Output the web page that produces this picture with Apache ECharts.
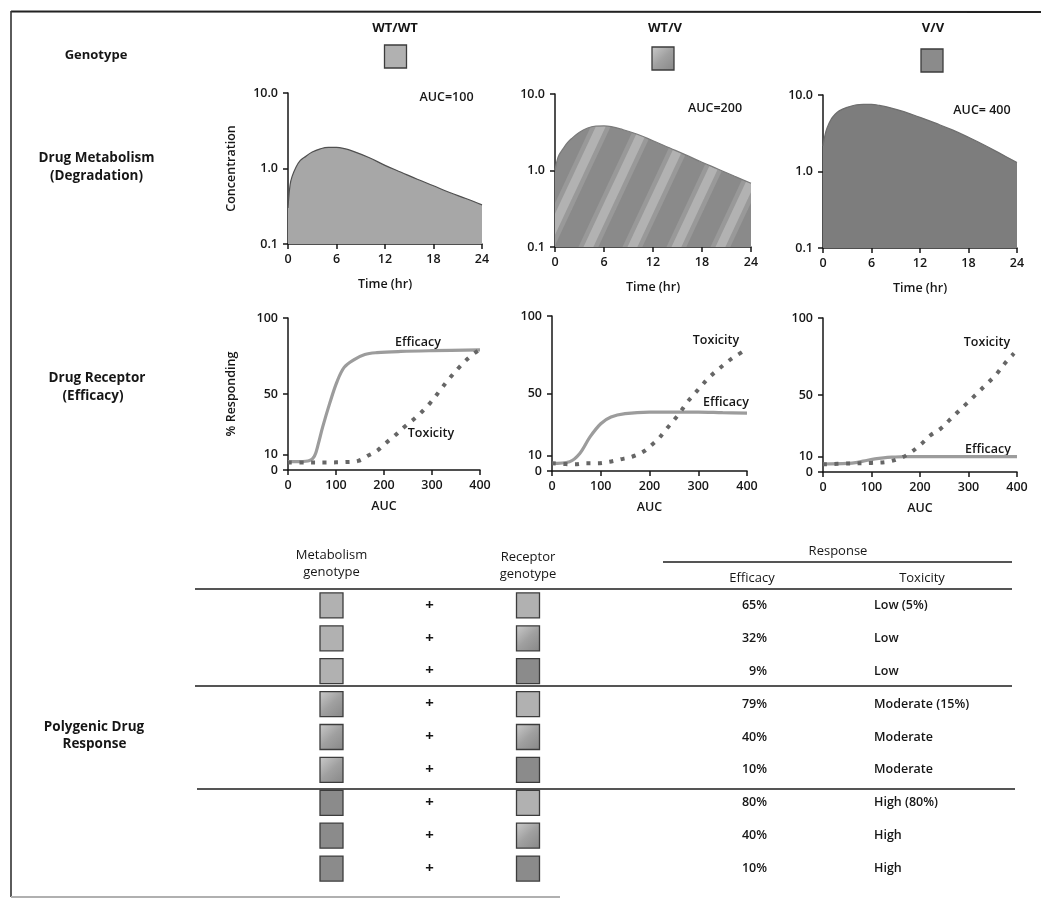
<!DOCTYPE html>
<html><head><meta charset="utf-8">
<script src="https://cdn.jsdelivr.net/npm/echarts@6/dist/echarts.min.js"></script>
<style>html,body{margin:0;padding:0;background:#fff}#c{width:1041px;height:898px}</style>
</head><body><div id="c"></div>
<script>
// ---------------- DATA ----------------
const genotypes = ['WT/WT', 'WT/V', 'V/V'];
const aucLabels = ['AUC=100', 'AUC=200', 'AUC= 400'];
const timeTicks = [0, 6, 12, 18, 24];
const respTicks = [0, 10, 50, 100];

const timeHr   = [0, 0.25, 0.5, 1, 1.5, 2, 3, 4, 5, 6, 7, 8, 10, 12, 14, 16, 18, 20, 22, 24];
const concWTWT = [0.3, 0.6, 0.78, 1.05, 1.27, 1.4, 1.65, 1.82, 1.9, 1.9, 1.83, 1.7, 1.4, 1.1, 0.89, 0.72, 0.59, 0.48, 0.4, 0.33];
const concWTV  = [1.0, 1.35, 1.6, 1.93, 2.3, 2.6, 3.16, 3.6, 3.8, 3.83, 3.72, 3.5, 3.0, 2.45, 1.98, 1.6, 1.28, 1.04, 0.84, 0.68];
const concVV   = [2.16, 3.0, 3.7, 4.8, 5.6, 6.2, 6.9, 7.4, 7.56, 7.56, 7.3, 6.95, 6.05, 5.1, 4.25, 3.5, 2.8, 2.2, 1.7, 1.31];

// [AUC, % responding]
const effWTWT = [[0,5.5],[25,5.5],[45,6.2],[55,9],[63,17],[72,28],[87,44],[102,58],[117,67.5],[137,72.5],[160,76],[185,77.2],[235,78],[300,78.5],[400,79]];
const toxWTWT = [[0,5],[40,5],[80,5],[120,5.2],[146,6],[167,9.5],[185,12.5],[201,17],[222,22.5],[243,28.5],[268,35],[296,44],[317,52.5],[337,60.5],[358,68],[379,74.5],[398,79]];
const effWTV  = [[0,4.9],[36,6],[57,11.3],[78,22],[100,30.5],[121,34.8],[150,37],[200,38],[250,38],[300,38],[350,37.6],[400,37.3]];
const toxWTV  = [[0,5],[46,4.3],[71,5],[93,5],[118,6],[140,7.5],[164,9.2],[187,12.4],[205,17],[219,21],[233,26.5],[248,32],[262,37.4],[276,43.8],[290,49],[306,54.7],[321,60],[337,64.5],[353,68.7],[371,73],[394,77.5]];
const effVV   = [[0,5.2],[50,5.6],[71,6.3],[90,7.5],[107,8.5],[125,9.2],[142,9.6],[170,10],[200,10],[300,10],[400,10]];
const toxVV   = [[0,5],[50,5.5],[100,5.9],[135,6.7],[164,9.6],[182,12.9],[203,18.3],[221,23.7],[242,28],[260,33.5],[278,39],[296,44.4],[314,49.9],[335,56.4],[356,63],[378,71.7],[394,77]];

// table
const tableMetab    = [0, 0, 0, 1, 1, 1, 2, 2, 2];
const tableRecep    = [0, 1, 2, 0, 1, 2, 0, 1, 2];
const tableEfficacy = [65, 32, 9, 79, 40, 10, 80, 40, 10];
const tableToxicity = ['Low (5%)', 'Low', 'Low', 'Moderate (15%)', 'Moderate', 'Moderate', 'High (80%)', 'High', 'High'];

// ---------------- STYLE ----------------
const FF = '"Open Sans", "DejaVu Sans", sans-serif';
const INK = '#161616';

function stripes() {
  const W = 44, H = 94;
  const c = document.createElement('canvas');
  c.width = W; c.height = H;
  const g = c.getContext('2d');
  g.fillStyle = '#8a8a8a'; g.fillRect(0, 0, W, H);
  [[18, 'rgba(176,176,176,0.4)'], [9, 'rgba(184,184,184,0.8)']].forEach(([lw, col]) => {
    g.strokeStyle = col; g.lineWidth = lw;
    for (let k = -2; k <= 2; k++) {
      g.beginPath();
      g.moveTo(k * W - W * 0.5, H * 1.5);
      g.lineTo(k * W + W * 1.5, -H * 0.5);
      g.stroke();
    }
  });
  return c;
}
function swatchFill(gIdx) {
  if (gIdx === 0) return '#b1b1b1';
  if (gIdx === 1) return new echarts.graphic.LinearGradient(0, 0, 1, 1, [
    { offset: 0, color: '#cccccc' }, { offset: 0.5, color: '#a0a0a0' }, { offset: 1, color: '#878787' }]);
  return '#8b8b8b';
}

const axisLineStyle = { color: INK, width: 1.5 };
const labelStyle = { color: INK, fontSize: 12.5, fontWeight: 600, fontFamily: FF };
const nameStyle = { color: INK, fontSize: 12.5, fontWeight: 600, fontFamily: FF };

const grids = [
  { left: 288, top: 93, width: 194, height: 151 },
  { left: 555, top: 94, width: 196, height: 153 },
  { left: 823, top: 95, width: 194, height: 153 },
  { left: 288, top: 318, width: 192, height: 152 },
  { left: 552, top: 316, width: 195, height: 155 },
  { left: 823, top: 318, width: 194, height: 154 },
  { left: 195, top: 589, width: 817, height: 296 }
];

const xAxes = [], yAxes = [];
for (let i = 0; i < 3; i++) {
  xAxes.push({
    gridIndex: i, type: 'value', min: 0, max: 24, interval: 6,
    name: 'Time (hr)', nameLocation: 'middle', nameGap: 34, nameTextStyle: nameStyle,
    axisLine: { lineStyle: axisLineStyle }, axisTick: { length: 5, lineStyle: axisLineStyle },
    axisLabel: Object.assign({ margin: 9, customValues: timeTicks }, labelStyle), splitLine: { show: false }
  });
  yAxes.push({
    gridIndex: i, type: 'log', logBase: 10, min: 0.1, max: 10,
    name: i === 0 ? 'Concentration' : '', nameLocation: 'middle', nameGap: 50, nameRotate: 90, nameTextStyle: nameStyle,
    axisLine: { show: true, lineStyle: axisLineStyle }, axisTick: { show: true, length: 5, lineStyle: axisLineStyle },
    axisLabel: Object.assign({ margin: 10, formatter: v => Number(v).toFixed(1) }, labelStyle), splitLine: { show: false }
  });
}
for (let i = 3; i < 6; i++) {
  xAxes.push({
    gridIndex: i, type: 'value', min: 0, max: 400, interval: 100,
    name: 'AUC', nameLocation: 'middle', nameGap: 30, nameTextStyle: nameStyle,
    axisLine: { lineStyle: axisLineStyle }, axisTick: { length: 5, lineStyle: axisLineStyle },
    axisLabel: Object.assign({ margin: 9 }, labelStyle), splitLine: { show: false }
  });
  yAxes.push({
    gridIndex: i, type: 'value', min: 0, max: 100,
    name: i === 3 ? '% Responding' : '', nameLocation: 'middle', nameGap: 50, nameRotate: 90, nameTextStyle: nameStyle,
    axisLine: { show: true, lineStyle: axisLineStyle },
    axisTick: { show: true, length: 5, lineStyle: axisLineStyle, customValues: respTicks },
    axisLabel: Object.assign({ margin: 10, customValues: respTicks }, labelStyle), splitLine: { show: false }
  });
}
// table axes (hidden); x in page-pixel-like units for column layout
xAxes.push({ gridIndex: 6, type: 'value', min: 195, max: 1012, show: false });
yAxes.push({ gridIndex: 6, type: 'category', inverse: true, show: false, data: tableEfficacy.map((_, i) => 'row' + i) });

const TCOL = { metab: 331.5, plus: 429.5, recep: 528, eff: 767, tox: 874 };

const pattern = { image: stripes(), repeat: 'repeat' };
const concSets = [concWTWT, concWTV, concVV];
const areaFills = ['#a7a7a7', pattern, '#7d7d7d'];
const edgeCols = ['#505050', '#7a7a7a', '#6e6e6e'];

const series = [];
concSets.forEach((arr, i) => {
  series.push({
    type: 'line', xAxisIndex: i, yAxisIndex: i, data: timeHr.map((t, k) => [t, arr[k]]),
    smooth: 0.4, symbol: 'none', silent: true,
    lineStyle: { color: edgeCols[i], width: 1.2 },
    areaStyle: { color: areaFills[i], opacity: 1, origin: 'start' }
  });
});
const effSets = [effWTWT, effWTV, effVV], toxSets = [toxWTWT, toxWTV, toxVV];
for (let i = 0; i < 3; i++) {
  series.push({
    type: 'line', xAxisIndex: 3 + i, yAxisIndex: 3 + i, data: effSets[i],
    smooth: 0.35, symbol: 'none', silent: true,
    lineStyle: { color: '#9c9c9c', width: 3.2 }
  });
  series.push({
    type: 'line', xAxisIndex: 3 + i, yAxisIndex: 3 + i, data: toxSets[i],
    smooth: 0.35, symbol: 'none', silent: true,
    lineStyle: { color: '#666666', width: 4, type: [4, 7.5], cap: 'butt' }
  });
}
// table rows
series.push({
  type: 'custom', xAxisIndex: 6, yAxisIndex: 6, clip: false, silent: true,
  data: tableEfficacy.map((e, i) => [i, e]), encode: { y: 0 },
  renderItem: function (params, api) {
    const i = params.dataIndex;
    const y = api.coord([TCOL.metab, api.value(0)])[1];
    const xm = api.coord([TCOL.metab, 0])[0], xp = api.coord([TCOL.plus, 0])[0], xr = api.coord([TCOL.recep, 0])[0];
    const xe = api.coord([TCOL.eff, 0])[0], xt = api.coord([TCOL.tox, 0])[0];
    const sw = (cx, g) => ({ type: 'rect', shape: { x: cx - 11.5, y: y - 12.5, width: 23, height: 25 },
      style: { fill: swatchFill(g), stroke: '#3c3c3c', lineWidth: 1.3 } });
    const txt = (x, t, align, size, w) => ({ type: 'text', x: x, y: y,
      style: { text: t, align: align, verticalAlign: 'middle', fill: INK, fontSize: size || 12.5, fontWeight: w || 600, fontFamily: FF } });
    return { type: 'group', children: [
      sw(xm, tableMetab[i]), txt(xp, '+', 'center', 15, 700), sw(xr, tableRecep[i]),
      txt(xe, api.value(1) + '%', 'right'), txt(xt, tableToxicity[i], 'left')
    ] };
  }
});

// ---------------- GRAPHIC (text, frame, rules) ----------------
const G = [];
function T(x, y, text, opt) {
  opt = opt || {};
  G.push({ type: 'text', x: x, y: y, silent: true,
    style: { text: text, align: opt.align || 'center', verticalAlign: 'middle', fill: INK,
      fontSize: opt.size || 13, fontWeight: opt.weight || 700, fontFamily: FF } });
}
function L(x1, y1, x2, y2, w, c) {
  G.push({ type: 'line', silent: true, shape: { x1, y1, x2, y2 }, style: { stroke: c || '#1c1c1c', lineWidth: w || 1.5 } });
}
// frame
L(11, 11.5, 1041, 12, 2, '#222');
L(11, 11, 11, 897, 1.6, '#333');
L(11, 897, 560, 897, 2, '#b0b0b0');
// row labels
T(96, 55, 'Genotype');
T(96.5, 158, 'Drug Metabolism', { size: 13.5 });
T(96.5, 176, '(Degradation)', { size: 13.5 });
T(97, 378, 'Drug Receptor', { size: 13.5 });
T(93, 396, '(Efficacy)', { size: 13.5 });
T(94, 727, 'Polygenic Drug', { size: 13.5 });
T(94.5, 744, 'Response', { size: 13.5 });
// genotype headers + swatches
const hdr = [{ cx: 395, sx: 384.5, sy: 45 }, { cx: 665, sx: 652, sy: 47 }, { cx: 933, sx: 921, sy: 49 }];
genotypes.forEach((g, i) => {
  T(hdr[i].cx, 28, g, { size: 13 });
  G.push({ type: 'rect', silent: true, shape: { x: hdr[i].sx, y: hdr[i].sy, width: 22, height: 23 },
    style: { fill: swatchFill(i), stroke: '#3c3c3c', lineWidth: 1.3 } });
});
// AUC labels
T(446.5, 97, aucLabels[0], { size: 12.5, weight: 600 });
T(715, 108, aucLabels[1], { size: 12.5, weight: 600 });
T(982, 110, aucLabels[2], { size: 12.5, weight: 600 });
// curve labels
T(418, 342, 'Efficacy', { size: 12.5, weight: 600 });
T(431, 433, 'Toxicity', { size: 12.5, weight: 600 });
T(716, 340, 'Toxicity', { size: 12.5, weight: 600 });
T(726, 402, 'Efficacy', { size: 12.5, weight: 600 });
T(987, 342, 'Toxicity', { size: 12.5, weight: 600 });
T(988, 449, 'Efficacy', { size: 12.5, weight: 600 });
// table headers
T(331.5, 555, 'Metabolism', { weight: 500 });
T(331.5, 572, 'genotype', { weight: 500 });
T(528, 557, 'Receptor', { weight: 500 });
T(528, 574, 'genotype', { weight: 500 });
T(838, 551, 'Response', { weight: 500 });
T(752, 578, 'Efficacy', { weight: 500 });
T(922, 578, 'Toxicity', { weight: 500 });
L(663, 562, 1012, 562, 1.4);
L(195, 589, 1012, 589, 1.6);
L(195, 686, 1012, 686, 1.6);
L(197, 789, 1015, 789, 1.6);

const chart = echarts.init(document.getElementById('c'), null, { renderer: 'canvas' });
chart.setOption({
  animation: false,
  backgroundColor: '#fff',
  grid: grids,
  xAxis: xAxes,
  yAxis: yAxes,
  series: series,
  graphic: G
});
</script></body></html>
